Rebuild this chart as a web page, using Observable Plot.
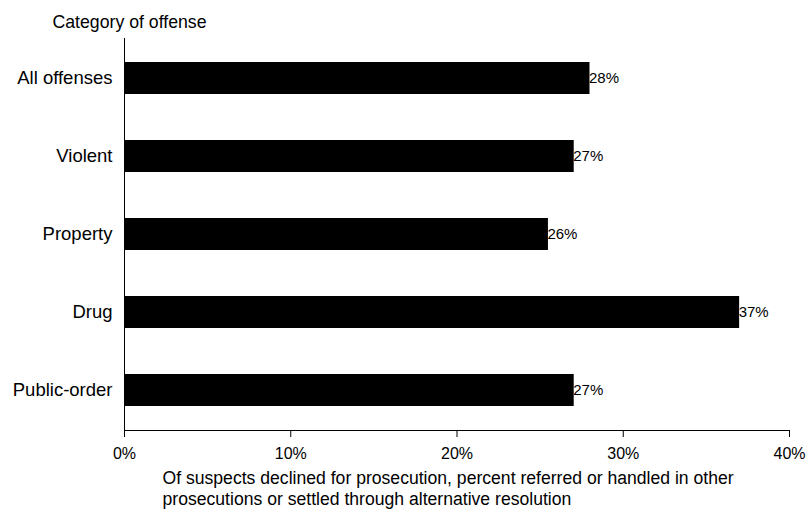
<!DOCTYPE html>
<html>
<head>
<meta charset="utf-8">
<script src="https://cdn.jsdelivr.net/npm/d3@7"></script>
<script src="https://cdn.jsdelivr.net/npm/@observablehq/plot@0.6"></script>
<style>
  body { margin: 0; background: #fff; }
  svg { font-family: "Liberation Sans", Arial, sans-serif; }
</style>
</head>
<body>
<div id="chart"></div>
<script>
const categories = ["All offenses", "Violent", "Property", "Drug", "Public-order"];
const values = [28.0, 27.05, 25.5, 37.0, 27.05];
const valueLabels = ["28%", "27%", "26%", "37%", "27%"];
const xTicks = [0, 10, 20, 30, 40];
const yTitle = "Category of offense";
const xTitle = "Of suspects declined for prosecution, percent referred or handled in other\nprosecutions or settled through alternative resolution";

const data = categories.map((c, i) => ({category: c, value: values[i], label: valueLabels[i]}));

const chart = Plot.plot({
  width: 806,
  height: 510,
  marginLeft: 124,
  marginRight: 17,
  marginTop: 38,
  marginBottom: 80,
  style: {fontFamily: "'Liberation Sans', Arial, sans-serif", fontSize: "16px", color: "#000", background: "#fff"},
  x: {domain: [0, 40], ticks: xTicks, tickFormat: d => d + "%"},
  y: {domain: categories, paddingInner: 0.59, paddingOuter: 0.295},
  marks: [
    Plot.barX(data, {x: "value", y: "category", fill: "#000"}),
    Plot.text(data, {x: "value", y: "category", text: "label", textAnchor: "start", dx: -1, fontSize: 15, fill: "#000"}),
    Plot.ruleX([0], {stroke: "#000", strokeWidth: 1}),
    Plot.axisX({ticks: xTicks, tickFormat: d => d + "%", tickSize: 7, tickPadding: 10, label: null, fontSize: 16, stroke: "#000"}),
    Plot.axisY({tickSize: 0, tickPadding: 12, label: null, fontSize: 18.5}),
    Plot.frame({anchor: "bottom", stroke: "#000"}),
    Plot.text([yTitle], {frameAnchor: "top-left", dx: -72, dy: -23, textAnchor: "start", fontSize: 17.7, fill: "#000"}),
    Plot.text([xTitle], {frameAnchor: "bottom-left", dx: 38, dy: 38, textAnchor: "start", lineAnchor: "top", lineHeight: 1.22, fontSize: 17.6, fill: "#000"})
  ]
});
document.getElementById("chart").appendChild(chart);
</script>
</body>
</html>
